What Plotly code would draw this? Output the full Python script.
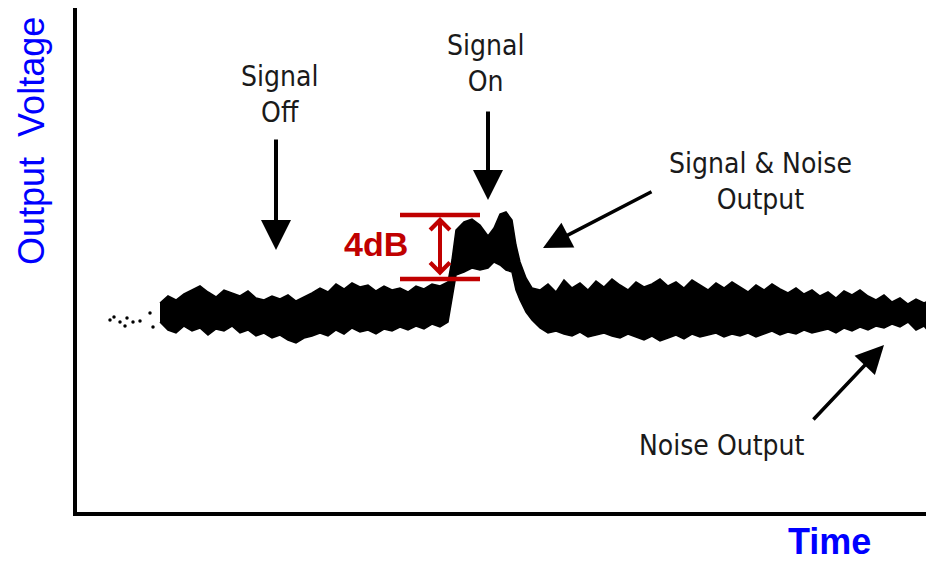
import plotly.graph_objects as go

# ---- data (time in arbitrary units, output voltage in arbitrary units) ----
time = [100, 108, 116, 124, 132, 140, 148, 156, 164, 172, 180, 188, 196, 204, 212, 220,
        228, 236, 244, 252, 260, 268, 276, 284, 292, 300, 308, 316, 324, 332, 340, 348,
        356, 364, 372, 380, 388, 392, 396, 404, 412, 420, 428, 434, 440, 446, 452, 456,
        460, 466, 472, 480, 488, 496, 504, 512, 520, 528, 536, 544, 552, 560, 568, 576,
        584, 592, 600, 608, 616, 624, 632, 640, 648, 656, 664, 672, 680, 688, 696, 704,
        712, 720, 728, 736, 744, 752, 760, 768, 776, 784, 792, 800, 808, 816, 824, 832,
        840, 848, 856, 864, 870]

band_upper = [212, 219, 215, 221, 225, 229, 223, 218, 225, 222, 219, 224, 217, 215, 219, 216,
              220, 214, 218, 222, 227, 223, 231, 226, 232, 228, 230, 224, 229, 225, 227, 223,
              229, 226, 231, 229, 233, 255, 285, 293, 296, 290, 279, 287, 301, 303, 295, 270,
              253, 237, 227, 225, 231, 223, 235, 227, 232, 225, 234, 228, 236, 230, 225, 233,
              228, 231, 236, 229, 233, 227, 235, 230, 225, 232, 227, 233, 228, 223, 230, 225,
              231, 226, 222, 227, 221, 225, 219, 223, 217, 224, 220, 225, 219, 215, 220, 213,
              217, 211, 216, 212, 215]

band_lower = [193, 185, 182, 189, 184, 187, 180, 186, 184, 189, 182, 185, 179, 182, 177, 180,
              175, 172, 177, 179, 182, 179, 185, 181, 187, 183, 185, 181, 186, 184, 188, 185,
              189, 186, 191, 188, 193, 215, 240, 243, 247, 245, 247, 253, 250, 245, 243, 225,
              215, 203, 195, 187, 182, 184, 181, 179, 183, 178, 180, 182, 179, 177, 181, 178,
              175, 179, 174, 177, 180, 176, 181, 178, 180, 182, 178, 181, 179, 182, 178, 181,
              184, 180, 183, 181, 185, 182, 184, 186, 182, 187, 184, 188, 185, 189, 187, 191,
              188, 193, 185, 189, 182]

stray_time = [50, 54, 60, 65, 67, 73, 80, 90, 93]
stray_volt = [195, 198, 193, 189, 197, 193, 194, 202, 188]

noise_level = 236        # lower red reference line (noise only)
signal_level = 300       # upper red reference line (signal + noise)
marker_span = [340, 420] # time span of the 4 dB marker lines
marker_time = 380

labels = {
    "off": "Signal<br>Off",
    "on": "Signal<br>On",
    "sn": "Signal &amp; Noise<br>Output",
    "noise": "Noise Output",
}

BLACK = "#000000"
RED = "#C00000"
BLUE = "#0000FF"
NARROW = "Liberation Sans Narrow, DejaVu Sans Condensed, Arial Narrow, sans-serif"

fig = go.Figure()

fig.add_trace(go.Scatter(x=time, y=band_upper, mode="lines",
                         line=dict(color=BLACK, width=1.5), hoverinfo="skip"))
fig.add_trace(go.Scatter(x=time, y=band_lower, mode="lines", fill="tonexty",
                         fillcolor=BLACK, line=dict(color=BLACK, width=1.5), hoverinfo="skip"))
fig.add_trace(go.Scatter(x=stray_time, y=stray_volt, mode="markers",
                         marker=dict(color=BLACK, size=3.5), hoverinfo="skip"))

# 4 dB reference lines
for lvl in (signal_level, noise_level):
    fig.add_shape(type="line", xref="x", yref="y", x0=marker_span[0], x1=marker_span[1],
                  y0=lvl, y1=lvl, line=dict(color=RED, width=4.5))

annotations = []
# double-headed 4 dB arrow
annotations.append(dict(x=marker_time, y=signal_level - 2, ax=marker_time, ay=noise_level + 2,
                        xref="x", yref="y", axref="x", ayref="y", text="", showarrow=True,
                        arrowside="end+start", arrowhead=4, startarrowhead=4,
                        arrowsize=0.95, startarrowsize=0.95, arrowwidth=4, arrowcolor=RED))
annotations.append(dict(x=316, y=271.5, xref="x", yref="y", text="<b>4dB</b>", showarrow=False,
                        font=dict(family="Liberation Sans, Arial, sans-serif", size=34, color=RED),
                        xanchor="center", yanchor="middle"))

# callout arrows
def arrow(tx, ty, hx, hy, w, s):
    return dict(x=hx, y=hy, ax=tx, ay=ty, xref="x", yref="y", axref="x", ayref="y",
                text="", showarrow=True, arrowhead=2, arrowsize=s, arrowwidth=w,
                arrowcolor=BLACK)

annotations.append(arrow(216, 377, 216, 265, 4, 1.5))
annotations.append(arrow(428, 405, 428, 315, 4, 1.5))
annotations.append(arrow(593, 324, 483, 267, 3.5, 1.6))
annotations.append(arrow(752, 94, 824, 170, 3.5, 1.6))

# callout texts
for key, (tx, ty) in {"off": (219, 421), "on": (425, 451.5), "sn": (700, 334),
                      "noise": (662, 70)}.items():
    annotations.append(dict(x=tx, y=ty, xref="x", yref="y", text=labels[key], showarrow=False,
                            font=dict(family=NARROW, size=28, color="#1a1a1a"),
                            xanchor="center", yanchor="middle", align="center"))

# axis titles
annotations.append(dict(x=-0.0539, y=0.7361, xref="paper", yref="paper", text="Output  Voltage",
                        textangle=-90, showarrow=False, xanchor="center", yanchor="middle",
                        font=dict(family="Liberation Sans, Arial, sans-serif", size=36, color=BLUE)))
annotations.append(dict(x=0.8817, y=-0.1032, xref="paper", yref="paper", text="<b>Time</b>",
                        showarrow=False, xanchor="center", yanchor="bottom",
                        font=dict(family="Liberation Sans, Arial, sans-serif", size=36, color=BLUE)))

# the page body adds an 8 px offset; size the figure so the plot area lands in place
fig.update_layout(
    width=926, height=556,
    margin=dict(l=69, r=3, t=0, b=52),
    paper_bgcolor="white", plot_bgcolor="white",
    showlegend=False,
    annotations=annotations,
    xaxis=dict(range=[17, 871], showline=True, linecolor=BLACK, linewidth=4,
               showgrid=False, zeroline=False, showticklabels=False, ticks=""),
    yaxis=dict(range=[3, 507], showline=True, linecolor=BLACK, linewidth=4,
               showgrid=False, zeroline=False, showticklabels=False, ticks=""),
)

fig.write_html("out.html")
